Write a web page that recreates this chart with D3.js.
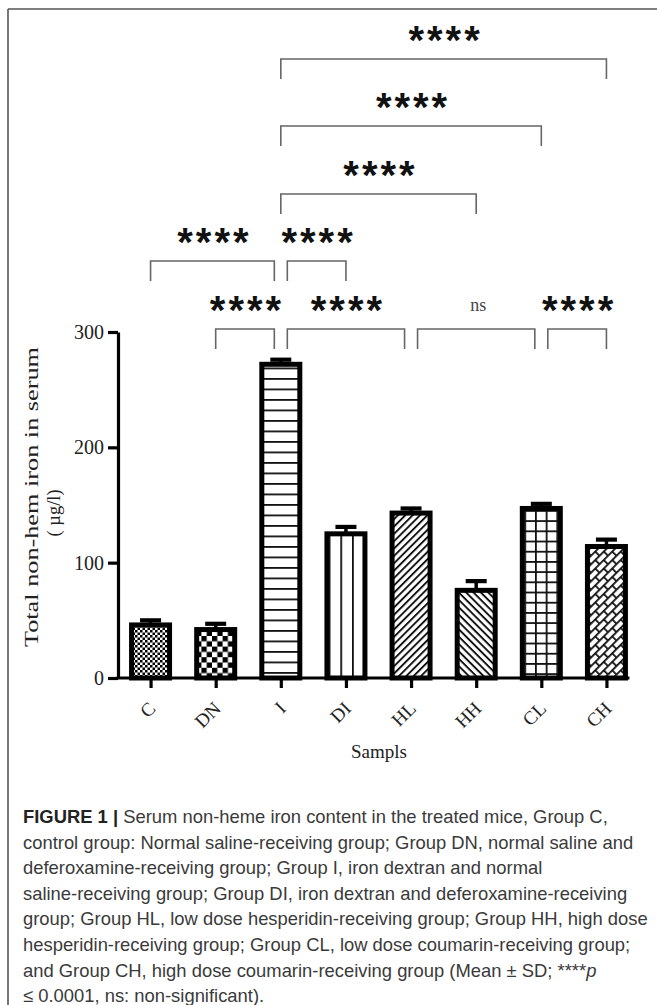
<!DOCTYPE html>
<html>
<head>
<meta charset="utf-8">
<script src="https://cdn.jsdelivr.net/npm/d3@7"></script>
<style>
  html, body { margin: 0; padding: 0; background: #fff; }
  svg { display: block; }
</style>
</head>
<body>
<svg id="fig" width="657" height="1005"></svg>
<script>
// Groups and serum non-heme iron (mean and SD, µg/l)
const groups = ["C", "DN", "I", "DI", "HL", "HH", "CL", "CH"];
const means  = [46, 42, 272, 125, 143, 76, 147, 114];
const sds    = [4, 5, 4, 6, 4, 8, 4, 6];
const fills  = ["checkFine", "checkCoarse", "hLines", "vLines", "diagUp", "diagDown", "grid", "brick"];
const yTicks = [0, 100, 200, 300];

// Pairwise comparisons: [from group, to group, label, level]
const compFrom  = ["DN", "I",  "HL", "CL", "C",  "I",  "I",  "I",  "I"];
const compTo    = ["I",  "HL", "CL", "CH", "I",  "DI", "HH", "CL", "CH"];
const compLabel = ["****", "****", "ns", "****", "****", "****", "****", "****", "****"];
const compLevel = [0, 0, 0, 0, 1, 1, 2, 3, 4];

const captionLines = [
  "Serum non-heme iron content in the treated mice, Group C,",
  "control group: Normal saline-receiving group; Group DN, normal saline and",
  "deferoxamine-receiving group; Group I, iron dextran and normal",
  "saline-receiving group; Group DI, iron dextran and deferoxamine-receiving",
  "group; Group HL, low dose hesperidin-receiving group; Group HH, high dose",
  "hesperidin-receiving group; Group CL, low dose coumarin-receiving group;",
  "and Group CH, high dose coumarin-receiving group (Mean \u00b1 SD; ****",
  "0.0001, ns: non-significant)."
];

const svg = d3.select("#fig");

// Frame lines (top and left)
svg.append("line").attr("x1", 8).attr("x2", 657).attr("y1", 9).attr("y2", 9)
  .attr("stroke", "#555").attr("stroke-width", 1.6);
svg.append("line").attr("x1", 8).attr("x2", 8).attr("y1", 9).attr("y2", 1005)
  .attr("stroke", "#555").attr("stroke-width", 1.6);

// ---- fill patterns ----
const defs = svg.append("defs");
function pat(id, w, h, transform) {
  const p = defs.append("pattern").attr("id", id)
    .attr("patternUnits", "userSpaceOnUse").attr("width", w).attr("height", h);
  if (transform) p.attr("patternTransform", transform);
  p.append("rect").attr("width", w).attr("height", h).attr("fill", "#fff");
  return p;
}
let p;
p = pat("checkFine", 5, 5);
p.append("rect").attr("width", 2.5).attr("height", 2.5).attr("fill", "#000");
p.append("rect").attr("x", 2.5).attr("y", 2.5).attr("width", 2.5).attr("height", 2.5).attr("fill", "#000");

p = pat("checkCoarse", 10.6, 10.6);
p.append("rect").attr("width", 5.3).attr("height", 5.3).attr("fill", "#000");
p.append("rect").attr("x", 5.3).attr("y", 5.3).attr("width", 5.3).attr("height", 5.3).attr("fill", "#000");

p = pat("hLines", 10, 10.5);
p.append("rect").attr("y", 0).attr("width", 10).attr("height", 1.8).attr("fill", "#111");

p = pat("vLines", 11.7, 10, "translate(1,0)");
p.append("rect").attr("x", 0).attr("width", 1.8).attr("height", 10).attr("fill", "#111");

p = pat("diagUp", 10, 5.2, "rotate(-45)");
p.append("rect").attr("y", 0).attr("width", 10).attr("height", 1.9).attr("fill", "#111");

p = pat("diagDown", 10, 5.2, "rotate(45)");
p.append("rect").attr("y", 0).attr("width", 10).attr("height", 1.9).attr("fill", "#111");

p = pat("grid", 10.7, 10.2);
p.append("rect").attr("x", 0).attr("width", 1.8).attr("height", 10.2).attr("fill", "#111");
p.append("rect").attr("y", 0).attr("width", 10.7).attr("height", 1.8).attr("fill", "#111");

// herringbone-like brick weave
p = pat("brick", 12, 12, "rotate(-45)");
p.append("rect").attr("y", 0).attr("width", 12).attr("height", 1.8).attr("fill", "#111");
p.append("rect").attr("y", 6).attr("width", 12).attr("height", 1.8).attr("fill", "#111");
p.append("rect").attr("x", 0).attr("y", 0).attr("width", 1.8).attr("height", 6).attr("fill", "#111");
p.append("rect").attr("x", 6).attr("y", 6).attr("width", 1.8).attr("height", 6).attr("fill", "#111");

// ---- scales ----
const axisX = 118, axisY = 678;
const x = d3.scalePoint().domain(groups).range([axisX, 639]).padding(0.5);
const y = d3.scaleLinear().domain([0, 300]).range([axisY, 332]);
const barW = 38;

const serif = "'Liberation Serif', 'Times New Roman', serif";

// ---- bars ----
const data = groups.map((g, i) => ({ g, m: means[i], sd: sds[i], fill: fills[i] }));
const bars = svg.append("g");
bars.selectAll("rect").data(data).join("rect")
  .attr("x", d => x(d.g) - barW / 2)
  .attr("y", d => y(d.m))
  .attr("width", barW)
  .attr("height", d => y(0) - y(d.m))
  .attr("fill", d => `url(#${d.fill})`)
  .attr("stroke", "#000")
  .attr("stroke-width", 5);

// error bars (upper half)
const err = svg.append("g").attr("stroke", "#000");
err.selectAll("line.v").data(data).join("line").attr("class", "v")
  .attr("x1", d => x(d.g)).attr("x2", d => x(d.g))
  .attr("y1", d => y(d.m)).attr("y2", d => y(d.m + d.sd))
  .attr("stroke-width", 3.5);
err.selectAll("line.c").data(data).join("line").attr("class", "c")
  .attr("x1", d => x(d.g) - 10.5).attr("x2", d => x(d.g) + 10.5)
  .attr("y1", d => y(d.m + d.sd)).attr("y2", d => y(d.m + d.sd))
  .attr("stroke-width", 4.2);

// ---- axes ----
const yAxis = svg.append("g").attr("transform", `translate(${axisX},0)`)
  .call(d3.axisLeft(y).tickValues(yTicks).tickSize(10).tickSizeOuter(0).tickPadding(4));
yAxis.select(".domain").attr("stroke-width", 3.2);
yAxis.selectAll(".tick line").attr("stroke-width", 3.2);
yAxis.selectAll(".tick text").attr("font-family", serif).attr("font-size", 20).attr("fill", "#222");

const xAxis = svg.append("g").attr("transform", `translate(0,${axisY})`)
  .call(d3.axisBottom(x).tickSize(10).tickSizeOuter(0));
xAxis.select(".domain").remove();
xAxis.selectAll(".tick line").attr("stroke-width", 3.2);
xAxis.selectAll(".tick text")
  .attr("font-family", serif).attr("font-size", 19).attr("fill", "#222")
  .attr("text-anchor", "end").attr("x", 0).attr("y", 0).attr("dy", "0.35em")
  .attr("transform", "translate(1,27) rotate(-45)");
svg.append("line")
  .attr("x1", axisX - 1.6).attr("x2", x(groups[groups.length - 1]) + barW / 2 + 4)
  .attr("y1", axisY).attr("y2", axisY)
  .attr("stroke", "#000").attr("stroke-width", 3.2);

// axis titles
svg.append("text").attr("x", 379).attr("y", 758).attr("text-anchor", "middle")
  .attr("font-family", serif).attr("font-size", 19).attr("fill", "#222").text("Sampls");
const yt = svg.append("text").attr("transform", "translate(38,497) rotate(-90)")
  .attr("text-anchor", "middle").attr("font-family", serif).attr("font-size", 18.5).attr("fill", "#222");
yt.append("tspan").attr("x", 0).attr("y", 0)
  .attr("textLength", 300).attr("lengthAdjust", "spacingAndGlyphs")
  .text("Total non-hem iron in serum");
yt.append("tspan").attr("x", -16).attr("y", 22).text("( \u00b5g/l)");

// ---- significance brackets ----
const levelY = [329, 261, 194, 126, 59];
const gap = 6.5, drop = 20;
const comps = compFrom.map((f, i) => ({ f, t: compTo[i], label: compLabel[i], level: compLevel[i] }));
comps.forEach(c => {
  const shared = g => comps.some(o => o !== c && o.level === c.level && (o.f === g || o.t === g));
  c.x1 = x(c.f) + (shared(c.f) ? gap : 0);
  c.x2 = x(c.t) - (shared(c.t) ? gap : 0);
  c.y = levelY[c.level];
});
const br = svg.append("g");
br.selectAll("path").data(comps).join("path")
  .attr("d", c => `M${c.x1},${c.y + drop}V${c.y}H${c.x2}V${c.y + drop}`)
  .attr("fill", "none").attr("stroke", "#666").attr("stroke-width", 1.6);
br.selectAll("text").data(comps).join("text")
  .attr("x", c => (c.x1 + c.x2) / 2 + 2)
  .attr("y", c => c.label === "ns" ? c.y - 18 : c.y - 5)
  .attr("text-anchor", "middle")
  .attr("font-family", c => c.label === "ns" ? serif : "'Liberation Sans', Arial, sans-serif")
  .attr("font-size", c => c.label === "ns" ? 18 : 40)
  .attr("font-weight", c => c.label === "ns" ? "normal" : "bold")
  .attr("letter-spacing", c => c.label === "ns" ? 0 : 3)
  .attr("fill", c => c.label === "ns" ? "#444" : "#111")
  .text(c => c.label);

// ---- caption ----
const cap = svg.append("g").attr("font-family", "'Liberation Sans', Arial, sans-serif")
  .attr("font-size", 18.4).attr("fill", "#3a3a3a");
const lineH = 25.6, cap0 = 823, capX = 23;
const first = cap.append("text").attr("x", capX).attr("y", cap0);
first.append("tspan").attr("font-weight", "bold").attr("fill", "#222").text("FIGURE 1");
first.append("tspan").attr("fill", "#222").attr("font-weight", "bold").text(" | ");
first.append("tspan").text(captionLines[0]);
captionLines.slice(1, 6).forEach((t, i) => {
  cap.append("text").attr("x", capX).attr("y", cap0 + lineH * (i + 1)).text(t);
});
const l7 = cap.append("text").attr("x", capX).attr("y", cap0 + lineH * 6);
l7.append("tspan").text(captionLines[6]);
l7.append("tspan").attr("font-style", "italic").text("p");
const l8 = cap.append("text").attr("x", capX).attr("y", cap0 + lineH * 7);
l8.append("tspan").text("\u2264 " + captionLines[7]);
</script>
</body>
</html>
